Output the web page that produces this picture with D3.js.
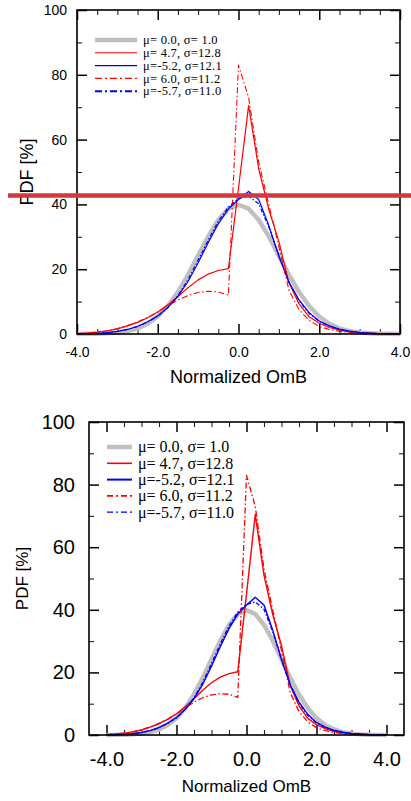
<!DOCTYPE html>
<html>
<head>
<meta charset="utf-8">
<script src="https://cdn.jsdelivr.net/npm/d3@7"></script>
<style>
  html, body { margin: 0; padding: 0; background: #fff; }
  svg { display: block; }
</style>
</head>
<body>
<svg id="chart" width="411" height="801"></svg>
<script>
// Normalized OmB bins
const omb = [-4.0, -3.75, -3.5, -3.25, -3.0, -2.75, -2.5, -2.25, -2.0, -1.75, -1.5, -1.25, -1.0, -0.75, -0.5, -0.25,
    0.0, 0.25, 0.5, 0.75, 1.0, 1.25, 1.5, 1.75, 2.0, 2.25, 2.5, 2.75, 3.0, 3.25, 3.5, 3.75, 4.0];

// PDF [%] per series
const pdfGauss = [0.01, 0.04, 0.09, 0.2, 0.44, 0.91, 1.75, 3.17, 5.4, 8.63, 12.95, 18.26, 24.2, 30.11, 35.21, 38.67,
    39.89, 38.67, 35.21, 30.11, 24.2, 18.26, 12.95, 8.63, 5.4, 3.17, 1.75, 0.91, 0.44, 0.2, 0.09, 0.04, 0.01];
const pdfRed1 = [0.1, 0.3, 0.6, 1.0, 1.6, 2.5, 3.6, 5.0, 6.8, 9.0, 11.6, 14.3, 16.7, 18.5, 19.6, 20.2,
    45.0, 70.5, 51.0, 38.5, 28.5, 15.8, 9.3, 5.3, 3.3, 2.0, 1.2, 0.7, 0.4, 0.25, 0.12, 0.06, 0.02];
const pdfBlue1 = [0.05, 0.1, 0.2, 0.4, 0.8, 1.4, 2.4, 3.8, 5.6, 8.2, 11.6, 16.2, 22.0, 28.2, 34.0, 38.6,
    41.5, 44.0, 41.5, 33.5, 24.0, 16.0, 10.5, 6.6, 4.0, 2.5, 1.5, 0.9, 0.5, 0.3, 0.15, 0.08, 0.03];
const pdfRed2 = [0.1, 0.3, 0.6, 1.0, 1.7, 2.6, 3.7, 5.1, 6.8, 8.7, 10.5, 11.9, 12.8, 13.2, 13.0, 12.0,
    83.0, 73.0, 53.0, 40.0, 27.0, 13.5, 7.5, 4.2, 2.3, 1.4, 0.8, 0.5, 0.3, 0.15, 0.08, 0.04, 0.02];
const pdfBlue2 = [0.05, 0.1, 0.2, 0.4, 0.8, 1.4, 2.3, 3.7, 5.5, 8.2, 11.8, 16.8, 22.8, 29.0, 34.8, 39.2,
    41.8, 42.5, 40.2, 33.0, 24.2, 16.0, 10.2, 6.3, 3.9, 2.4, 1.4, 0.8, 0.45, 0.25, 0.12, 0.06, 0.03];

const seriesLabels = ['\u03bc= 0.0, \u03c3= 1.0', '\u03bc= 4.7, \u03c3=12.8', '\u03bc=-5.2, \u03c3=12.1',
    '\u03bc= 6.0, \u03c3=11.2', '\u03bc=-5.7, \u03c3=11.0'];

const xMajorTicks = [-4, -2, 0, 2, 4];
const xMinorTicks = [-3.5, -3, -2.5, -1.5, -1, -0.5, 0.5, 1, 1.5, 2.5, 3, 3.5];
const yMajorTicks = [0, 20, 40, 60, 80, 100];
const yMinorTicks = [10, 30, 50, 70, 90];

const svg = d3.select('#chart');

function drawPanel(cfg) {
    const x = d3.scaleLinear().domain(cfg.xDomain).range([cfg.left, cfg.right]);
    const y = d3.scaleLinear().domain([0, 100]).range([cfg.bottom, cfg.top]);
    const g = svg.append('g');

    // Tick marks (inward) on all four sides
    const axes = [
        { ax: d3.axisBottom(x), t: `translate(0,${cfg.bottom})`, major: xMajorTicks, minor: xMinorTicks, labels: true },
        { ax: d3.axisTop(x), t: `translate(0,${cfg.top})`, major: xMajorTicks, minor: xMinorTicks, labels: false },
        { ax: d3.axisLeft(y), t: `translate(${cfg.left},0)`, major: yMajorTicks, minor: yMinorTicks, labels: true },
        { ax: d3.axisRight(y), t: `translate(${cfg.right},0)`, major: yMajorTicks, minor: yMinorTicks, labels: false }
    ];
    axes.forEach((a, i) => {
        const isX = i < 2;
        const fmt = a.labels ? (isX ? d => d.toFixed(1) : d => String(d)) : () => '';
        const major = g.append('g')
            .attr('transform', a.t)
            .call(a.ax.tickValues(a.major).tickSize(-cfg.majorLen)
                .tickPadding(isX ? cfg.xPad : cfg.yPad).tickFormat(fmt));
        major.select('.domain').remove();
        major.selectAll('line').attr('stroke', '#000').attr('stroke-width', 1.5);
        major.selectAll('text')
            .style('font-family', 'Liberation Sans, Arial, sans-serif')
            .style('font-size', (isX ? cfg.xFont : cfg.yFont) + 'px')
            .attr('fill', '#000');

        const minor = g.append('g')
            .attr('transform', a.t)
            .call(a.ax.tickValues(a.minor).tickSize(-cfg.minorLen).tickFormat(''));
        minor.select('.domain').remove();
        minor.selectAll('line').attr('stroke', '#222').attr('stroke-width', 1.1);
    });

    // Curves
    const line = d3.line().x((d, i) => x(omb[i])).y(d => y(d));
    const series = [
        { vals: pdfGauss, color: '#c0c0c0', w: cfg.grayW, dash: null, lw: cfg.grayW },
        { vals: pdfRed1, color: '#ff0000', w: cfg.lineW, dash: null, lw: cfg.redLW },
        { vals: pdfBlue1, color: '#0000ff', w: cfg.lineW, dash: null, lw: cfg.blueLW },
        { vals: pdfRed2, color: '#ff0000', w: cfg.lineW - 0.1, dash: '6,2.5,1.5,2.5', lw: cfg.redLW },
        { vals: pdfBlue2, color: '#0000ff', w: cfg.lineW, dash: '4,2,1.5,2', lw: cfg.blueDDLW }
    ];
    series.forEach(s => {
        g.append('path')
            .attr('d', line(s.vals))
            .attr('fill', 'none')
            .attr('stroke', s.color)
            .attr('stroke-width', s.w)
            .attr('stroke-linejoin', 'round')
            .attr('stroke-dasharray', s.dash);
    });

    // Frame
    g.append('rect')
        .attr('x', cfg.left).attr('y', cfg.top)
        .attr('width', cfg.right - cfg.left).attr('height', cfg.bottom - cfg.top)
        .attr('fill', 'none').attr('stroke', '#000').attr('stroke-width', 1.6);

    // Legend
    const legend = g.append('g');
    series.forEach((s, i) => {
        const ly = cfg.legY + i * cfg.legStep;
        legend.append('line')
            .attr('x1', cfg.legX1).attr('x2', cfg.legX2)
            .attr('y1', ly).attr('y2', ly)
            .attr('stroke', s.color)
            .attr('stroke-width', s.lw)
            .attr('stroke-dasharray', s.dash ? cfg.legDash : null);
        legend.append('text')
            .attr('x', cfg.legTx)
            .attr('y', ly + cfg.legFont * 0.34)
            .attr('xml:space', 'preserve')
            .style('white-space', 'pre')
            .style('font-family', 'Liberation Serif, Times New Roman, serif')
            .style('font-size', cfg.legFont + 'px')
            .style('letter-spacing', cfg.legSpacing + 'px')
            .attr('fill', '#000')
            .text(seriesLabels[i]);
    });

    // Axis titles
    g.append('text')
        .attr('x', x(0))
        .attr('y', cfg.xTitleY)
        .attr('text-anchor', 'middle')
        .style('font-family', 'Liberation Sans, Arial, sans-serif')
        .style('font-size', cfg.titleFont + 'px')
        .text('Normalized OmB');

    g.append('text')
        .attr('transform', `translate(${cfg.yTitleX},${(cfg.top + cfg.bottom) / 2}) rotate(-90)`)
        .attr('text-anchor', 'middle')
        .style('font-family', 'Liberation Sans, Arial, sans-serif')
        .style('font-size', cfg.titleFont + 'px')
        .text('PDF [%]');

    return { x, y, g };
}

const upperPanel = drawPanel({
    xDomain: [-4, 4], left: 77, right: 400, top: 10, bottom: 334,
    majorLen: 10, minorLen: 5, xPad: 13, yPad: 10, xFont: 14, yFont: 14,
    grayW: 4.5, lineW: 1.2, redLW: 1.1, blueLW: 1.3, blueDDLW: 2,
    legX1: 95, legX2: 137, legTx: 143, legY: 40, legStep: 12.8, legFont: 12.5, legSpacing: 0.25,
    legDash: '7,3,2,3',
    xTitleY: 383, yTitleX: 33, titleFont: 18
});

const lowerPanel = drawPanel({
    xDomain: [-4.5, 4.5], left: 89, right: 404, top: 422, bottom: 735,
    majorLen: 10, minorLen: 5, xPad: 17, yPad: 14, xFont: 20, yFont: 20,
    grayW: 4.5, lineW: 1.4, redLW: 1.6, blueLW: 2, blueDDLW: 1.2,
    legX1: 107, legX2: 132, legTx: 138, legY: 447, legStep: 16.3, legFont: 16, legSpacing: 0,
    legDash: '6,3,2,3',
    xTitleY: 792, yTitleX: 28, titleFont: 17
});

// Highlight bar across the top panel
svg.append('line')
    .attr('x1', 8).attr('x2', 411)
    .attr('y1', 195.5).attr('y2', 195.5)
    .attr('stroke', '#cf3a3e')
    .attr('stroke-width', 4.5);
</script>
</body>
</html>
